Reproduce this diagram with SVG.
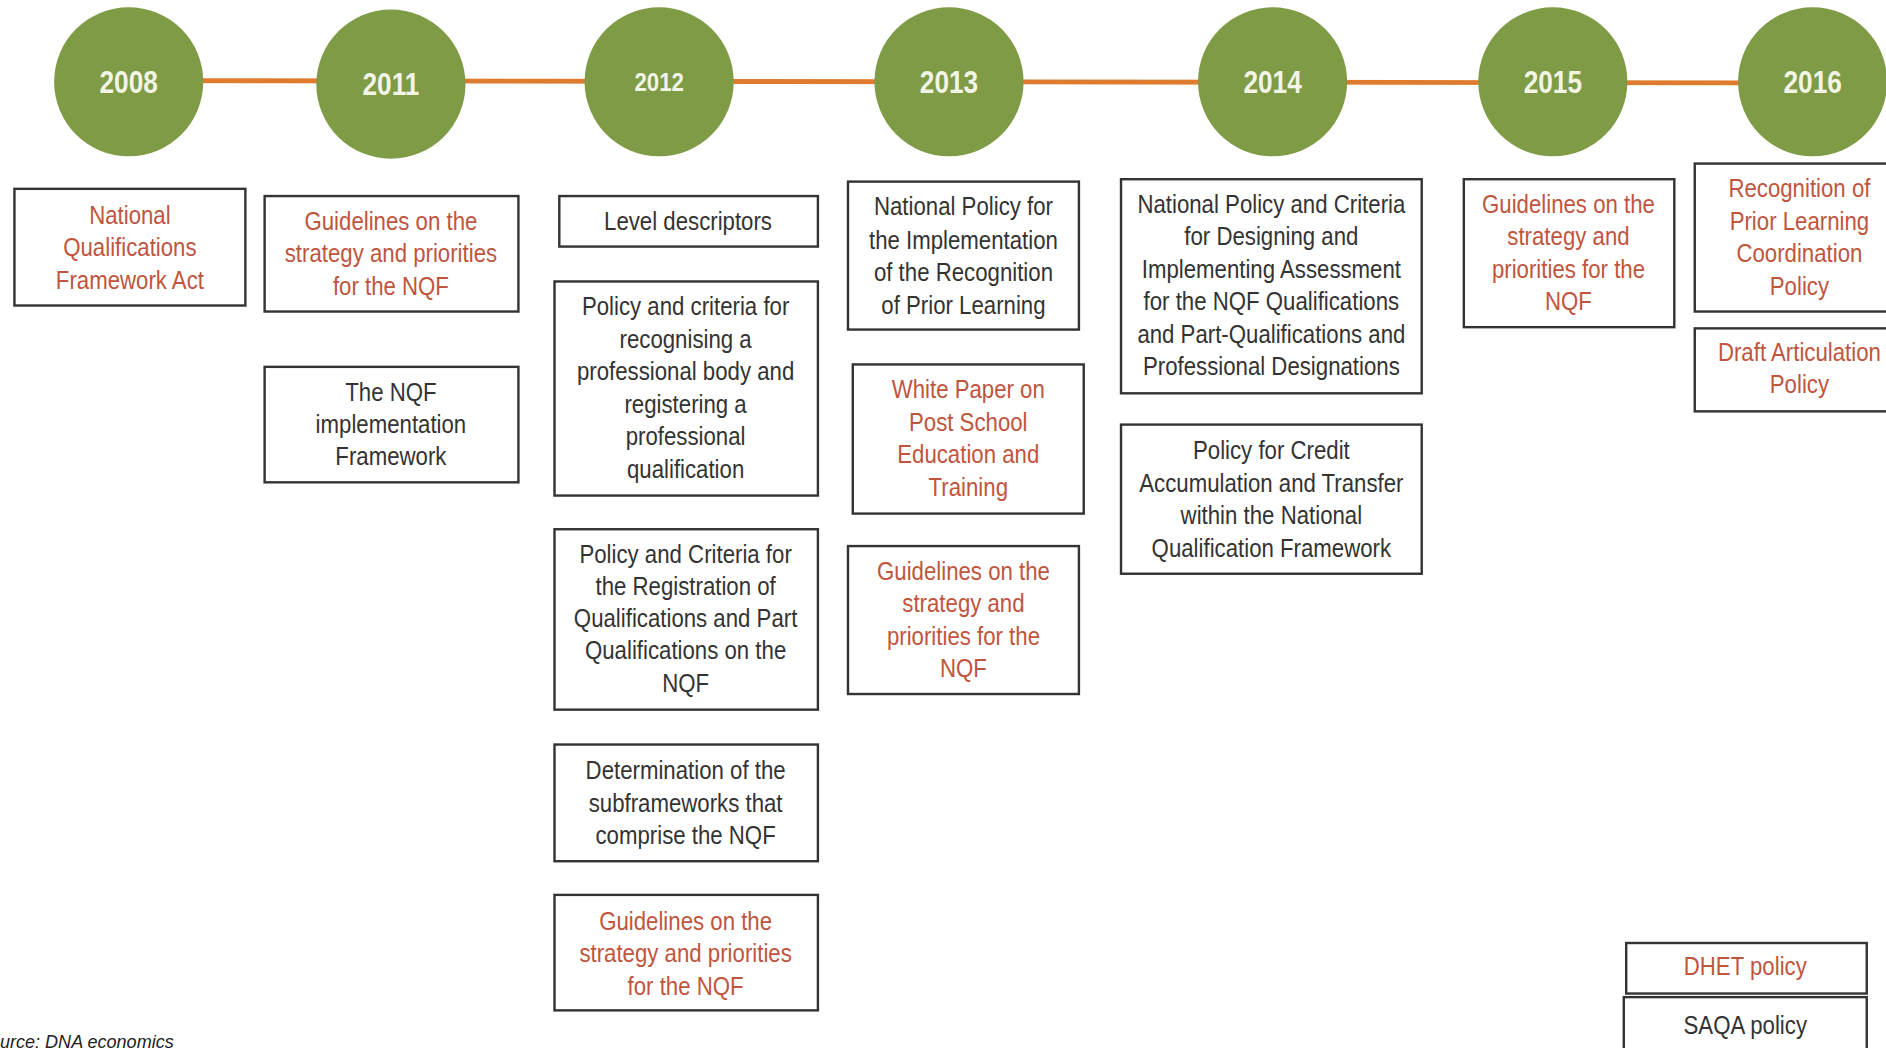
<svg xmlns="http://www.w3.org/2000/svg" width="1886" height="1048" viewBox="0 0 1886 1048">
<style>
.yr{fill:#7F9B45}
.yt{font-family:"Liberation Sans",Arial,sans-serif;font-weight:bold;fill:#F2F4E6;text-anchor:middle}
.bx{fill:#fff;stroke:#333;stroke-width:2}
.t{font-family:"Liberation Sans",Arial,sans-serif;font-size:22px;text-anchor:middle;fill:#333}
.r{fill:#C0553E}
.src{font-family:"Liberation Sans",Arial,sans-serif;font-size:15px;font-style:italic;fill:#222}
</style>
<rect width="1886" height="1048" fill="#fff"/>
<g transform="scale(1.20281)">
<g id="connectors">
<line x1="107" y1="67" x2="1507" y2="69" stroke="#DE7B2E" stroke-width="4"/>
</g>
<g id="y2008"><circle class="yr" cx="107" cy="68" r="62"/><text class="yt" transform="translate(107 0) scale(0.84 1)" x="0" y="77" font-size="26">2008</text></g>
<g id="y2011"><circle class="yr" cx="325" cy="70" r="62"/><text class="yt" transform="translate(325 0) scale(0.84 1)" x="0" y="79" font-size="26">2011</text></g>
<g id="y2012"><circle class="yr" cx="548" cy="68" r="62"/><text class="yt" transform="translate(548 0) scale(0.84 1)" x="0" y="76" font-size="22">2012</text></g>
<g id="y2013"><circle class="yr" cx="789" cy="68" r="62"/><text class="yt" transform="translate(789 0) scale(0.84 1)" x="0" y="77" font-size="26">2013</text></g>
<g id="y2014"><circle class="yr" cx="1058" cy="68" r="62"/><text class="yt" transform="translate(1058 0) scale(0.84 1)" x="0" y="77" font-size="26">2014</text></g>
<g id="y2015"><circle class="yr" cx="1291" cy="68" r="62"/><text class="yt" transform="translate(1291 0) scale(0.84 1)" x="0" y="77" font-size="26">2015</text></g>
<g id="y2016"><circle class="yr" cx="1507" cy="68" r="62"/><text class="yt" transform="translate(1507 0) scale(0.84 1)" x="0" y="77" font-size="26">2016</text></g>

<g id="b2008"><rect class="bx" x="12" y="157" width="192" height="97"/>
<text class="t r" transform="translate(108 0) scale(0.84 1)"><tspan x="0" y="186">National</tspan><tspan x="0" y="213">Qualifications</tspan><tspan x="0" y="240">Framework Act</tspan></text></g>

<g id="b2011a"><rect class="bx" x="220" y="163" width="211" height="96"/>
<text class="t r" transform="translate(325 0) scale(0.84 1)"><tspan x="0" y="191">Guidelines  on the</tspan><tspan x="0" y="218">strategy and priorities</tspan><tspan x="0" y="245">for the NQF</tspan></text></g>
<g id="b2011b"><rect class="bx" x="220" y="305" width="211" height="96"/>
<text class="t" transform="translate(325 0) scale(0.84 1)"><tspan x="0" y="333">The NQF</tspan><tspan x="0" y="360">implementation</tspan><tspan x="0" y="387">Framework</tspan></text></g>

<g id="b2012a"><rect class="bx" x="465" y="163" width="215" height="42"/>
<text class="t" transform="translate(572 0) scale(0.84 1)" x="0" y="191">Level descriptors</text></g>
<g id="b2012b"><rect class="bx" x="461" y="234" width="219" height="178"/>
<text class="t" transform="translate(570 0) scale(0.84 1)"><tspan x="0" y="262">Policy and criteria for</tspan><tspan x="0" y="289">recognising a</tspan><tspan x="0" y="316">professional body and</tspan><tspan x="0" y="343">registering a</tspan><tspan x="0" y="370">professional</tspan><tspan x="0" y="397">qualification</tspan></text></g>
<g id="b2012c"><rect class="bx" x="461" y="440" width="219" height="150"/>
<text class="t" transform="translate(570 0) scale(0.84 1)"><tspan x="0" y="468">Policy and Criteria for</tspan><tspan x="0" y="495">the Registration of</tspan><tspan x="0" y="521">Qualifications and Part</tspan><tspan x="0" y="548">Qualifications on the</tspan><tspan x="0" y="575">NQF</tspan></text></g>
<g id="b2012d"><rect class="bx" x="461" y="619" width="219" height="97"/>
<text class="t" transform="translate(570 0) scale(0.84 1)"><tspan x="0" y="648">Determination of the</tspan><tspan x="0" y="675">subframeworks that</tspan><tspan x="0" y="702">comprise the NQF</tspan></text></g>
<g id="b2012e"><rect class="bx" x="461" y="744" width="219" height="96"/>
<text class="t r" transform="translate(570 0) scale(0.84 1)"><tspan x="0" y="773">Guidelines  on the</tspan><tspan x="0" y="800">strategy and priorities</tspan><tspan x="0" y="827">for the NQF</tspan></text></g>

<g id="b2013a"><rect class="bx" x="705" y="151" width="192" height="123"/>
<text class="t" transform="translate(801 0) scale(0.84 1)"><tspan x="0" y="179">National Policy for</tspan><tspan x="0" y="207">the Implementation</tspan><tspan x="0" y="234">of the Recognition</tspan><tspan x="0" y="261">of Prior Learning</tspan></text></g>
<g id="b2013b"><rect class="bx" x="709" y="303" width="192" height="124"/>
<text class="t r" transform="translate(805 0) scale(0.84 1)"><tspan x="0" y="331">White Paper on</tspan><tspan x="0" y="358">Post School</tspan><tspan x="0" y="385">Education and</tspan><tspan x="0" y="412">Training</tspan></text></g>
<g id="b2013c"><rect class="bx" x="705" y="454" width="192" height="123"/>
<text class="t r" transform="translate(801 0) scale(0.84 1)"><tspan x="0" y="482">Guidelines  on the</tspan><tspan x="0" y="509">strategy and</tspan><tspan x="0" y="536">priorities for the</tspan><tspan x="0" y="563">NQF</tspan></text></g>

<g id="b2014a"><rect class="bx" x="932" y="149" width="250" height="178"/>
<text class="t" transform="translate(1057 0) scale(0.84 1)"><tspan x="0" y="177">National Policy and Criteria</tspan><tspan x="0" y="204">for Designing and</tspan><tspan x="0" y="231">Implementing  Assessment</tspan><tspan x="0" y="258">for the NQF Qualifications</tspan><tspan x="0" y="285">and Part-Qualifications and</tspan><tspan x="0" y="312">Professional Designations</tspan></text></g>
<g id="b2014b"><rect class="bx" x="932" y="353" width="250" height="124"/>
<text class="t" transform="translate(1057 0) scale(0.84 1)"><tspan x="0" y="382">Policy for Credit</tspan><tspan x="0" y="409">Accumulation  and Transfer</tspan><tspan x="0" y="436">within the National</tspan><tspan x="0" y="463">Qualification Framework</tspan></text></g>

<g id="b2015"><rect class="bx" x="1217" y="149" width="175" height="123"/>
<text class="t r" transform="translate(1304 0) scale(0.84 1)"><tspan x="0" y="177">Guidelines  on the</tspan><tspan x="0" y="204">strategy and</tspan><tspan x="0" y="231">priorities for the</tspan><tspan x="0" y="258">NQF</tspan></text></g>

<g id="b2016a"><rect class="bx" x="1409" y="136" width="170" height="123"/>
<text class="t r" transform="translate(1496 0) scale(0.84 1)"><tspan x="0" y="164">Recognition of</tspan><tspan x="0" y="191">Prior Learning</tspan><tspan x="0" y="218">Coordination</tspan><tspan x="0" y="245">Policy</tspan></text></g>
<g id="b2016b"><rect class="bx" x="1409" y="273" width="170" height="69"/>
<text class="t r" transform="translate(1496 0) scale(0.84 1)"><tspan x="0" y="300">Draft Articulation</tspan><tspan x="0" y="327">Policy</tspan></text></g>

<g id="legend-dhet"><rect class="bx" x="1352" y="784" width="200" height="42"/>
<text class="t r" transform="translate(1451 0) scale(0.84 1)" x="0" y="811">DHET policy</text></g>
<g id="legend-saqa"><rect class="bx" x="1350" y="829" width="202" height="50"/>
<text class="t" transform="translate(1451 0) scale(0.84 1)" x="0" y="860">SAQA policy</text></g>

<text class="src" x="0" y="871">urce: DNA economics</text>
</g>
</svg>
